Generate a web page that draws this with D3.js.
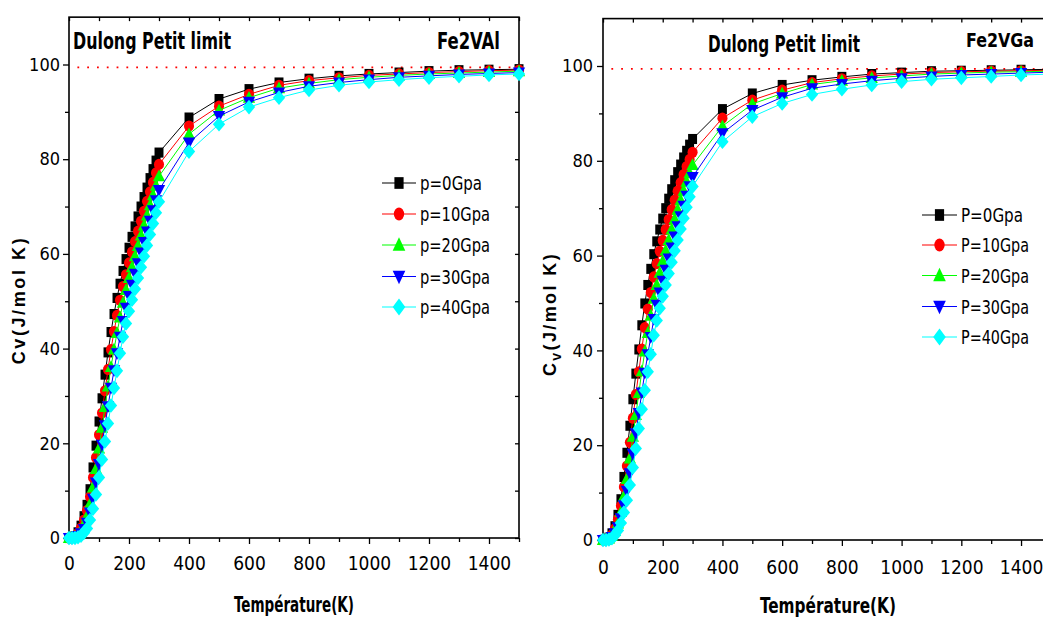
<!DOCTYPE html>
<html>
<head>
<meta charset="utf-8">
<script src="https://cdn.jsdelivr.net/npm/d3@7"></script>
<style>
  body { margin: 0; background: #fff; }
  svg { display: block; }
</style>
</head>
<body>
<svg width="1043" height="619"></svg>
<script>
// temperatures (K)
const temps = [0,10,20,30,40,50,60,70,80,90,100,110,120,130,140,150,160,170,180,190,200,
  210,220,230,240,250,260,270,280,290,300,400,500,600,700,800,900,1000,1100,1200,1300,1400,1500];

// Cv (J/mol K) for Fe2VAl
const vAl0  = [0,0.05,0.4,1.2,2.6,4.6,7.0,10.3,14.9,19.5,24.6,29.5,34.5,39.2,43.5,47.3,50.7,53.7,56.4,58.9,61.3,
  63.6,65.8,67.9,70.0,72.0,74.0,76.0,77.9,79.7,81.4,88.8,92.7,94.8,96.2,97.0,97.6,98.0,98.3,98.6,98.8,98.9,99.0];
const vAl10 = [0,0.04,0.3,1.0,2.1,3.8,5.8,8.7,12.8,17.0,21.8,26.4,31.1,35.6,39.8,43.6,47.0,50.2,53.1,55.6,58.1,
  60.4,62.6,64.8,66.9,69.0,71.1,73.1,75.1,77.1,78.9,87.0,91.2,93.7,95.6,96.6,97.2,97.7,98.0,98.3,98.5,98.7,98.8];
const vAl20 = [0,0.03,0.2,0.7,1.6,2.9,4.6,7.2,10.7,14.6,18.9,23.3,27.7,32.0,36.1,39.8,43.3,46.6,49.7,52.4,54.9,
  57.2,59.5,61.7,63.9,66.0,68.1,70.3,72.4,74.4,76.4,85.3,90.3,93.0,95.0,96.0,96.8,97.3,97.7,98.0,98.2,98.4,98.6];
const vAl30 = [0,0.01,0.1,0.4,1.0,1.9,3.2,5.4,8.3,11.7,15.6,19.7,23.8,27.8,31.7,35.4,39.0,42.5,45.8,48.6,51.1,
  53.5,55.8,58.0,60.3,62.5,64.7,67.0,69.2,71.3,73.5,83.5,89.1,92.1,94.1,95.4,96.2,96.8,97.3,97.6,97.9,98.1,98.3];
const vAl40 = [0,0,0.02,0.15,0.5,1.1,2.0,3.8,6.2,9.2,12.8,16.6,20.4,24.2,28.0,31.7,35.3,39.0,42.5,45.3,47.9,
  50.3,52.6,54.9,57.2,59.5,61.8,64.1,66.4,68.7,71.0,81.6,87.4,91.0,93.0,94.6,95.6,96.3,96.8,97.2,97.5,97.8,98.0];

// Cv (J/mol K) for Fe2VGa
const vGa0  = [0,0.1,0.5,1.4,2.9,5.3,8.6,13.3,18.4,24.1,29.7,35.1,40.2,45.3,49.9,53.8,57.2,60.3,63.0,65.5,67.8,
  70.0,72.0,74.0,75.9,77.6,79.2,80.7,82.1,83.4,84.6,90.9,94.2,96.0,97.0,97.7,98.3,98.6,98.9,99.0,99.1,99.2,99.3];
const vGa10 = [0,0.07,0.4,1.1,2.4,4.4,7.2,11.2,15.6,20.6,25.7,30.7,35.5,40.3,44.8,48.7,52.2,55.5,58.3,60.9,63.2,
  65.5,67.6,69.7,71.7,73.6,75.4,77.1,78.8,80.3,81.8,89.0,92.8,94.9,96.5,97.3,97.9,98.3,98.6,98.8,98.9,99.0,99.1];
const vGa20 = [0,0.05,0.3,0.9,1.9,3.5,5.9,9.2,12.9,17.2,21.8,26.4,31.0,35.6,39.8,43.7,47.3,50.9,53.8,56.4,58.8,
  61.1,63.3,65.5,67.7,69.7,71.7,73.7,75.6,77.4,79.1,87.3,92.0,94.2,96.1,96.9,97.5,97.9,98.3,98.5,98.7,98.8,98.9];
const vGa30 = [0,0.02,0.2,0.6,1.4,2.7,4.6,7.3,10.4,14.1,18.2,22.5,26.8,31.1,35.3,39.2,42.8,46.6,49.6,52.2,54.7,
  57.0,59.4,61.7,64.0,66.2,68.3,70.5,72.6,74.6,76.6,85.8,90.7,93.4,95.3,96.2,96.9,97.4,97.8,98.1,98.3,98.5,98.7];
const vGa40 = [0,0,0.1,0.4,1.0,2.0,3.6,5.8,8.4,11.6,15.3,19.3,23.5,27.6,31.6,35.5,39.2,43.2,46.3,48.9,51.4,
  53.8,56.2,58.6,61.0,63.3,65.6,67.9,70.2,72.4,74.6,84.0,89.3,92.1,94.0,95.1,96.0,96.7,97.2,97.5,97.8,98.1,98.3];

const legendVAl = ["p=0Gpa", "p=10Gpa", "p=20Gpa", "p=30Gpa", "p=40Gpa"];
const legendVGa = ["P=0Gpa", "P=10Gpa", "P=20Gpa", "P=30Gpa", "P=40Gpa"];
const dulongPetit = 99.4;

const xTicks = [0, 200, 400, 600, 800, 1000, 1200, 1400];
const xMinor = [100, 300, 500, 700, 900, 1100, 1300, 1500];
const yTicks = [0, 20, 40, 60, 80, 100];
const yMinor = [10, 30, 50, 70, 90];
const yAll = [0, 10, 20, 30, 40, 50, 60, 70, 80, 90, 100];

const colors = ["#000000", "#ff0000", "#00ff00", "#0000ff", "#00ffff"];
const shapes = [
  "M-4,-4.5H4V4.5H-4Z",
  "M-4.5,0A4.5,5 0 1,0 4.5,0A4.5,5 0 1,0 -4.5,0Z",
  "M0,-6L5.5,4.5H-5.5Z",
  "M0,6L5.5,-4.5H-5.5Z",
  "M0,-6.5L5.5,0L0,6.5L-5.5,0Z"
];

const narrow = "'Liberation Sans Narrow','Arial Narrow','DejaVu Sans Condensed',sans-serif";
const bold = "'Liberation Sans',Arial,Helvetica,sans-serif";

const svg = d3.select("svg");

function drawPanel(p) {
  const x = d3.scaleLinear().domain([0, 1500]).range([p.x0, p.x1]);
  const y = d3.scaleLinear().domain([0, 110]).range([p.y0, p.y1]);
  const g = svg.append("g");

  // axes
  const bottom = g.append("g").attr("transform", `translate(0,${y(0)})`);
  bottom.append("g").call(d3.axisBottom(x).tickValues(xTicks).tickSize(6).tickPadding(p.xPad).tickFormat(d => d));
  bottom.append("g").call(d3.axisBottom(x).tickValues(xMinor).tickSize(4).tickFormat(""));

  const left = g.append("g").attr("transform", `translate(${x(0)},0)`);
  left.append("g").call(d3.axisLeft(y).tickValues(yTicks).tickSize(6).tickPadding(p.yPad).tickFormat(d => d));
  left.append("g").call(d3.axisLeft(y).tickValues(yMinor).tickSize(4).tickFormat(""));

  g.append("g").attr("transform", `translate(${x(1500)},0)`)
    .call(d3.axisLeft(y).tickValues(yAll).tickSize(4).tickFormat(""));
  g.append("g").attr("transform", `translate(0,${y(110)})`)
    .call(d3.axisBottom(x).tickValues(xTicks.concat(xMinor)).tickSize(4).tickFormat(""));

  g.selectAll(".domain").remove();
  g.selectAll(".tick line").attr("stroke", "#000").attr("stroke-width", 1.3);
  bottom.selectAll(".tick text").attr("font-family", narrow).attr("font-size", 19).attr("fill", "#000");
  left.selectAll(".tick text").attr("font-family", narrow).attr("font-size", 18).attr("fill", "#000");

  g.append("rect")
    .attr("x", x(0)).attr("y", y(110))
    .attr("width", x(1500) - x(0)).attr("height", y(0) - y(110))
    .attr("fill", "none").attr("stroke", "#000").attr("stroke-width", 1.6);

  // Dulong-Petit limit
  g.append("line")
    .attr("x1", x(28)).attr("x2", x(1500))
    .attr("y1", y(dulongPetit)).attr("y2", y(dulongPetit))
    .attr("stroke", "#ff0000").attr("stroke-width", 1.6)
    .attr("stroke-dasharray", "1.8 8");

  // series
  const line = d3.line().x((d, i) => x(temps[i])).y(d => y(d));
  p.series.forEach((vals, k) => {
    g.append("path").datum(vals)
      .attr("d", line).attr("fill", "none")
      .attr("stroke", colors[k]).attr("stroke-width", 1);
    g.append("g").selectAll("path").data(vals).join("path")
      .attr("d", shapes[k])
      .attr("transform", (d, i) => `translate(${x(temps[i])},${y(d)}) scale(1.12)`)
      .attr("fill", colors[k]);
  });

  // legend
  p.legend.forEach((lab, k) => {
    const ly = p.legY[k];
    g.append("line").attr("x1", p.legX1).attr("x2", p.legX2).attr("y1", ly).attr("y2", ly)
      .attr("stroke", colors[k]).attr("stroke-width", 1.2);
    g.append("path").attr("d", shapes[k])
      .attr("transform", `translate(${(p.legX1 + p.legX2) / 2},${ly}) scale(1.15,1.3)`)
      .attr("fill", colors[k]);
    g.append("text").attr("x", p.legTx).attr("y", ly + 7)
      .attr("font-family", narrow).attr("font-size", 19)
      .attr("textLength", p.legLen[k]).attr("lengthAdjust", "spacingAndGlyphs")
      .text(lab);
  });

  // titles
  g.append("text").attr("x", p.titleX).attr("y", p.titleY)
    .attr("font-family", narrow).attr("font-weight", "bold").attr("font-size", 23)
    .attr("textLength", p.titleLen).attr("lengthAdjust", "spacingAndGlyphs")
    .text("Dulong Petit limit");
  g.append("text").attr("x", p.compX).attr("y", p.compY)
    .attr("font-family", narrow).attr("font-weight", "bold").attr("font-size", p.compSize)
    .attr("textLength", p.compLen).attr("lengthAdjust", "spacingAndGlyphs")
    .text(p.compound);

  g.append("text").attr("x", p.xLabX).attr("y", p.xLabY).attr("text-anchor", "middle")
    .attr("font-family", narrow).attr("font-weight", "bold").attr("font-size", p.xLabSize)
    .attr("textLength", p.xLabLen).attr("lengthAdjust", "spacingAndGlyphs")
    .text("Température(K)");

  const yl = g.append("text")
    .attr("transform", `translate(${p.yLabX},${p.yLabY}) rotate(-90)`)
    .attr("text-anchor", "middle")
    .attr("font-family", bold).attr("font-weight", "bold").attr("font-size", 18)
    .attr("letter-spacing", p.yLabSpacing);
  if (p.subscript) {
    yl.append("tspan").text("C");
    yl.append("tspan").attr("font-size", 14).attr("dy", 5).text("v");
    yl.append("tspan").attr("dy", -5).text("(J/mol K)");
  } else {
    yl.text("Cv(J/mol K)");
  }
}

drawPanel({
  x0: 69, x1: 519, y0: 538, y1: 538 - 110 * 4.735,
  xPad: 13, yPad: 3,
  series: [vAl0, vAl10, vAl20, vAl30, vAl40],
  legend: legendVAl,
  legX1: 382, legX2: 416, legTx: 420, legY: [183, 214, 245, 276.5, 307],
  legLen: [62, 70, 70, 70, 70],
  titleX: 73, titleY: 49, titleLen: 158,
  compound: "Fe2VAl", compX: 437, compY: 49, compLen: 63, compSize: 23,
  xLabX: 294, xLabY: 612, xLabLen: 120, xLabSize: 21,
  yLabX: 25, yLabY: 300, yLabSpacing: 2.6, subscript: false
});

drawPanel({
  x0: 603, x1: 603 + 1500 * 0.2986, y0: 540, y1: 540 - 110 * 4.74,
  xPad: 15, yPad: 4,
  series: [vGa0, vGa10, vGa20, vGa30, vGa40],
  legend: legendVGa,
  legX1: 922, legX2: 957, legTx: 961, legY: [215, 245, 275.5, 306.5, 337],
  legLen: [62, 68, 68, 68, 68],
  titleX: 708, titleY: 52, titleLen: 152,
  compound: "Fe2VGa", compX: 966, compY: 47, compLen: 68, compSize: 20,
  xLabX: 828, xLabY: 613, xLabLen: 136, xLabSize: 22,
  yLabX: 556, yLabY: 314, yLabSpacing: 2.4, subscript: true
});
</script>
</body>
</html>
